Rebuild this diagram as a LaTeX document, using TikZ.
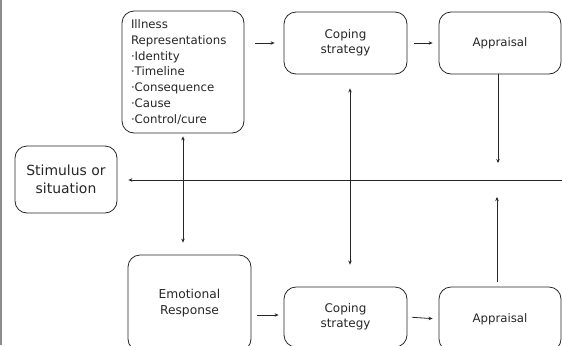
\documentclass[tikz,border=0pt]{standalone}
\usepackage{fontspec}
\setmainfont{DejaVu Sans}
\usetikzlibrary{arrows.meta}
\begin{document}
\begin{tikzpicture}[x=1bp,y=-1bp,
  box/.style={draw=black!85, line width=0.8bp, rounded corners=12bp, inner sep=0pt,
              align=center, text=black!85},
  arr/.style={draw=black!85, line width=0.8bp, -{Stealth[length=4bp,width=3.5bp]}},
  dbl/.style={draw=black!85, line width=0.8bp, {Stealth[length=4bp,width=3.5bp]}-{Stealth[length=4bp,width=3.5bp]}}]
\useasboundingbox (0,0) rectangle (562,345);
\clip (0,0) rectangle (562,345);
% left margin rule
\draw[black!45, line width=1.5bp] (0.75,0) -- (0.75,345);

% boxes
\node[box, minimum width=122bp, minimum height=122bp, text width=104bp, align=left,
      font=\fontsize{11.8}{15.9}\selectfont] (ill) at (183,72)
  {Illness\\Representations\\·Identity\\·Timeline\\·Consequence\\·Cause\\·Control/cure};
\node[box, minimum width=123bp, minimum height=62bp, font=\fontsize{12}{15}\selectfont]
  (cop1) at (345.5,43) {Coping\\strategy};
\node[box, minimum width=122bp, minimum height=62bp, font=\fontsize{11.8}{15}\selectfont]
  (app1) at (500,43) {Appraisal};
\node[box, minimum width=102bp, minimum height=67bp, font=\fontsize{14}{18}\selectfont]
  (stim) at (66,179.5) {Stimulus or\\situation};
\node[box, minimum width=123bp, minimum height=96bp, font=\fontsize{12.3}{16}\selectfont]
  (emo) at (189.5,303) {Emotional\\Response};
\node[box, minimum width=123bp, minimum height=60bp, font=\fontsize{12}{15}\selectfont]
  (cop2) at (345.5,317) {Coping\\strategy};
\node[box, minimum width=122bp, minimum height=64bp, font=\fontsize{11.8}{15}\selectfont]
  (app2) at (500,319) {Appraisal};

% junctions on the feedback line
\coordinate (hr) at (562,180);
\coordinate (j1) at (498,180);
\coordinate (j2) at (497,180);

% connectors
\draw[arr, shorten <=11bp, shorten >=9bp] (ill.east |- cop1.west) -- (cop1.west);
\draw[arr, shorten <=7bp, shorten >=6bp] (cop1.east) -- (app1.west);
\draw[arr, shorten >=17bp] (app1.south -| j1) -- (j1);
\draw[arr, shorten >=11bp] (hr) -- (stim.east |- hr);
\draw[arr, shorten <=5bp, shorten >=17bp] (app2.north -| j2) -- (j2);
\draw[dbl, shorten <=3bp, shorten >=12bp] (ill.south) -- (ill.south |- emo.north);
\draw[dbl, shorten <=14bp, shorten >=22bp] ([xshift=4.5bp]cop1.south) -- ([xshift=4.5bp]cop1.south |- cop2.north);
\draw[arr, shorten <=6bp, shorten >=5bp] ([yshift=2bp]emo.east |- cop2.west) -- ([yshift=2bp]cop2.west);
\draw[arr, shorten <=5bp, shorten >=6bp] (cop2.east) -- (app2.west);
\end{tikzpicture}
\end{document}
